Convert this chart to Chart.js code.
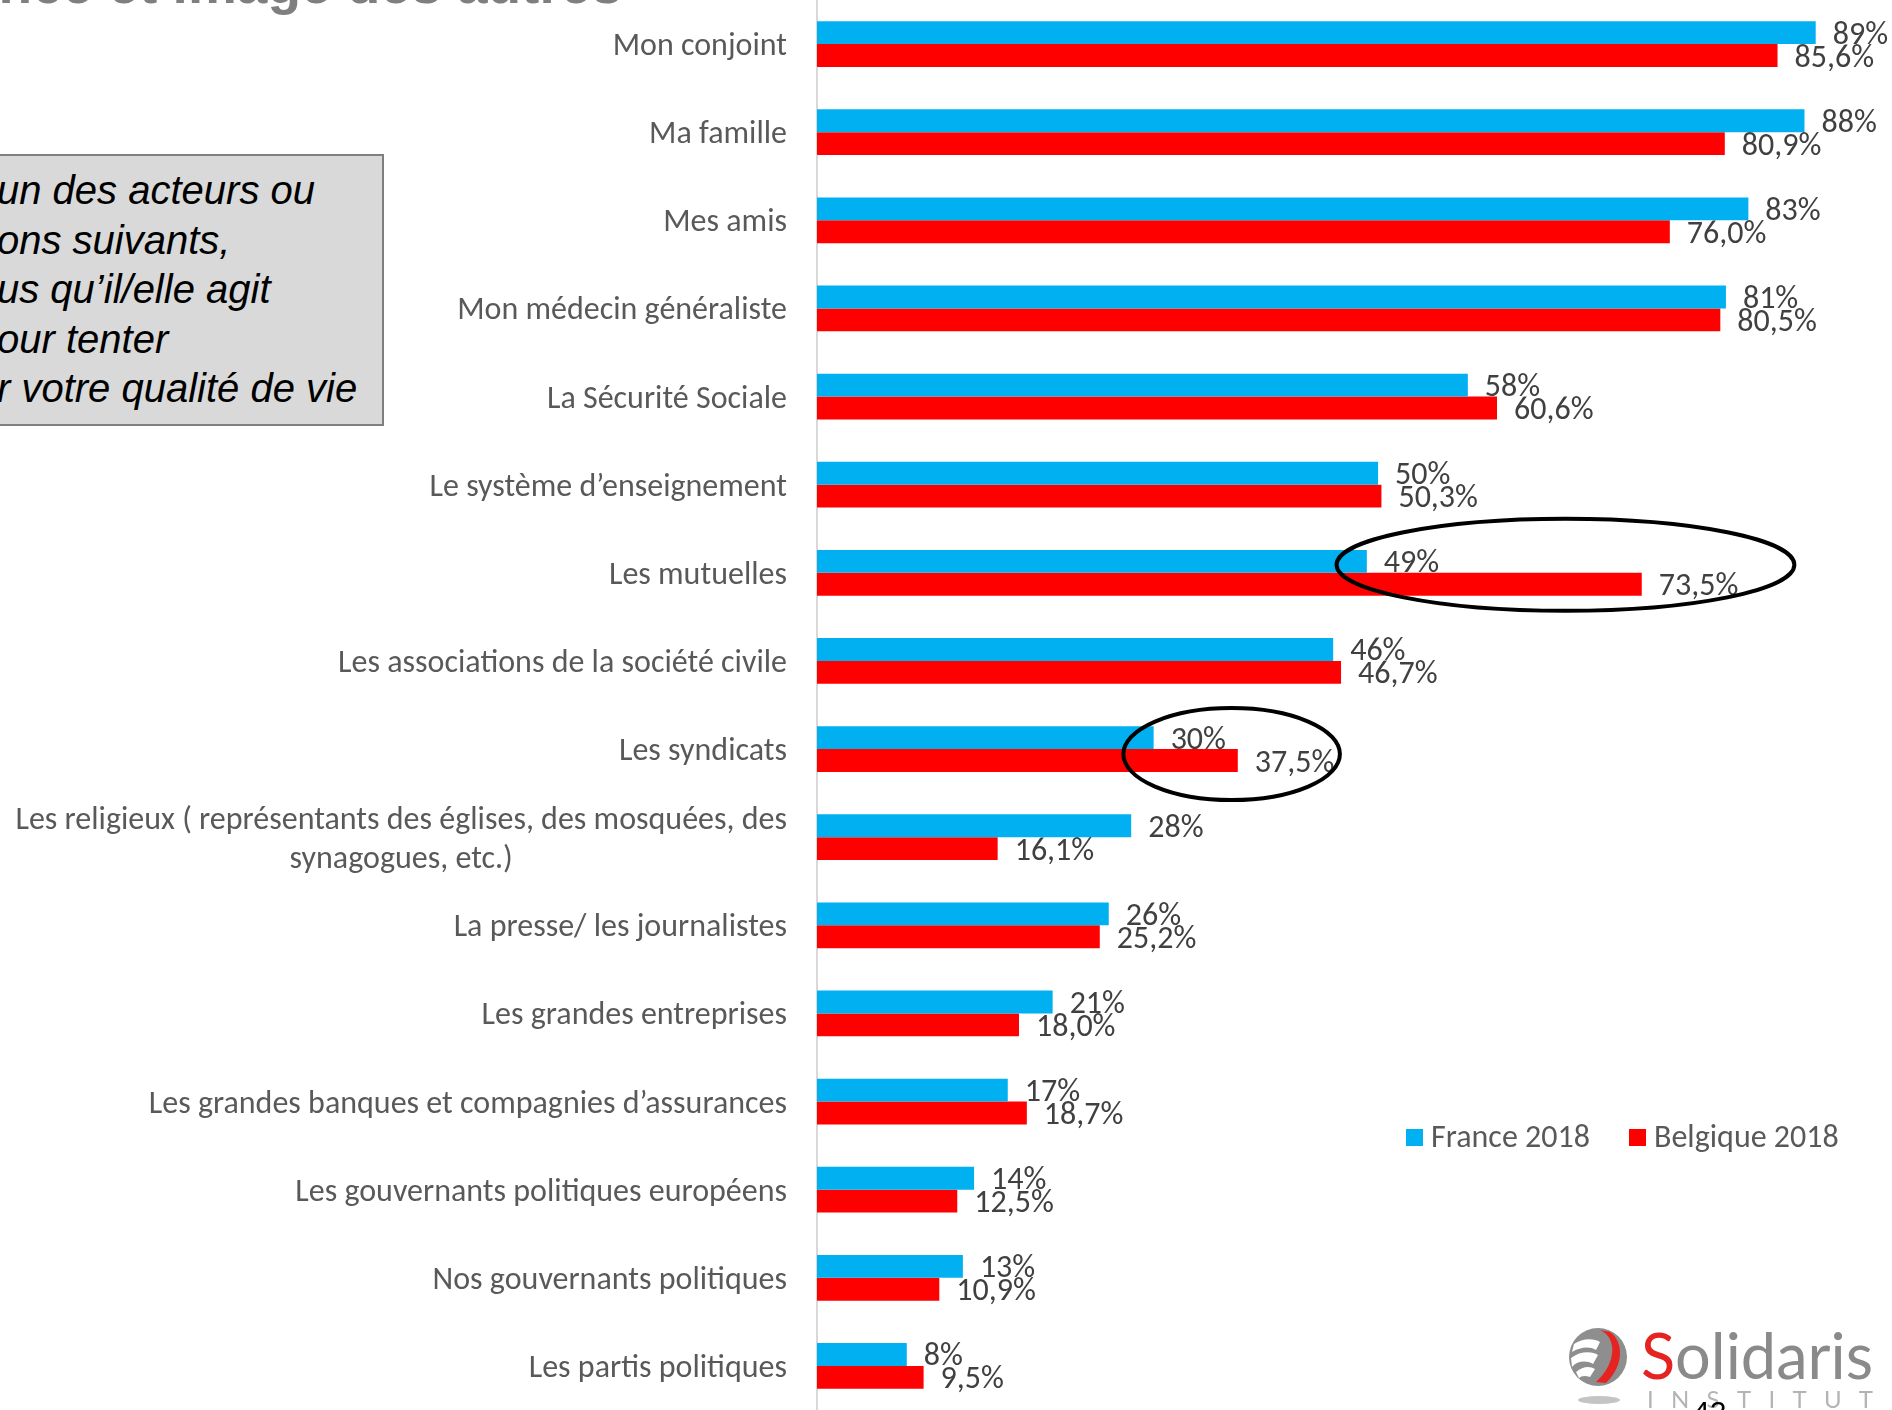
<!DOCTYPE html>
<html>
<head>
<meta charset="utf-8">
<script src="https://cdn.jsdelivr.net/npm/chart.js@4.4.1/dist/chart.umd.min.js"></script>
<style>
  html, body { margin: 0; padding: 0; background: #fff; overflow: hidden; }
  #wrap { position: relative; width: 1892px; height: 1410px; overflow: hidden; }
  #chart { position: absolute; left: 0; top: 0; }
  #title {
    position: absolute; right: 1270px; top: -43px; white-space: nowrap;
    font: bold 55px "Liberation Sans", Arial, sans-serif; line-height: 1; color: #7f7f7f;
  }
  #question {
    position: absolute; left: -20px; top: 154px; width: 404px; height: 272px;
    background: #d9d9d9; border: 2px solid #7f7f7f;
    padding: 10px 0 0 15px; box-sizing: border-box;
    font: italic 40px "Liberation Sans", Arial, sans-serif; line-height: 49.5px; color: #000;
    white-space: nowrap;
  }
  .leg { position: absolute; top: 1116px; font: 32px Carlito, Lato, sans-serif; color: #595959; line-height: 42px; }
  .leg i { position: absolute; left: 0; top: 13px; width: 17px; height: 17px; }
  .leg span { position: absolute; left: 25px; top: 0; white-space: nowrap; }
  #logo { position: absolute; left: 1560px; top: 1320px; }
</style>
</head>
<body>
<div id="wrap">
  <canvas id="chart" width="1892" height="1410"></canvas>
  <div id="title">Confiance et image des autres</div>
  <div id="question">un des acteurs ou<br>ons suivants,<br>us qu’il/elle agit<br>our tenter<br>r votre qualité de vie</div>
  <div class="leg" style="left:1406px"><i style="background:#00b0f0"></i><span>France 2018</span></div>
  <div class="leg" style="left:1629px"><i style="background:#ff0000"></i><span>Belgique 2018</span></div>
  <svg id="logo" width="332" height="90" viewBox="0 0 332 90">
    <ellipse cx="39" cy="80" rx="21" ry="4" fill="#c4c4c4"/>
    <circle cx="38" cy="37" r="29" fill="#8e8e8e"/>
    <path d="M40 10 C58 18 56 44 36 62 L46 63 C64 46 64 22 50 12 Z" fill="#e52421"/>
    <path d="M14 24 C22 18 34 18 40 22 L36 30 C30 26 20 27 12 32 Z" fill="#fff"/>
    <path d="M11 38 C20 31 32 31 38 35 L33 44 C26 40 17 41 12 47 Z" fill="#fff"/>
    <path d="M16 52 C23 46 30 46 35 49 L30 57 C25 55 21 56 19 58 Z" fill="#fff"/>
    <text x="81" y="59" font-family="Lato, sans-serif" font-size="64" textLength="232" lengthAdjust="spacingAndGlyphs" fill="#8a8a8a"><tspan fill="#e52421">S</tspan>olidaris</text>
    <text x="87" y="88" font-family="Lato, sans-serif" font-size="24" textLength="226" lengthAdjust="spacing" fill="#b4b4b4">INSTITUT</text>
    <text x="133" y="102" font-family="Liberation Sans, sans-serif" font-size="30" fill="#000">42</text>
  </svg>
</div>
<script>
// categories top to bottom (the long one is split on two lines)
const categories = [
  "Mon conjoint",
  "Ma famille",
  "Mes amis",
  "Mon médecin généraliste",
  "La Sécurité Sociale",
  "Le système d’enseignement",
  "Les mutuelles",
  "Les associations de la société civile",
  "Les syndicats",
  ["Les religieux ( représentants des églises, des mosquées, des", "synagogues, etc.)"],
  "La presse/ les journalistes",
  "Les grandes entreprises",
  "Les grandes banques et compagnies d’assurances",
  "Les gouvernants politiques européens",
  "Nos gouvernants politiques",
  "Les partis politiques"
];
const france2018 = [89, 88, 83, 81, 58, 50, 49, 46, 30, 28, 26, 21, 17, 14, 13, 8];
const belgique2018 = [85.6, 80.9, 76.0, 80.5, 60.6, 50.3, 73.5, 46.7, 37.5, 16.1, 25.2, 18.0, 18.7, 12.5, 10.9, 9.5];
// circled comparisons: category index and the value range the ring covers
const highlightCats = [6, 8];
const highlightFrom = [46.3, 27.3];
const highlightTo = [87.1, 46.6];
const ringShift = [-8, 5]; // px, rings are hand placed

const TEXT_FONT = '32px Carlito, Lato, sans-serif';

// value labels, category labels and the hand-drawn rings
const overlay = {
  id: 'overlay',
  afterDatasetsDraw(chart) {
    const ctx = chart.ctx;
    const xs = chart.scales.x, ys = chart.scales.y;
    ctx.save();
    ctx.font = TEXT_FONT;
    ctx.textBaseline = 'middle';

    // value labels
    ctx.fillStyle = '#404040';
    ctx.textAlign = 'left';
    chart.data.datasets.forEach((ds, i) => {
      chart.getDatasetMeta(i).data.forEach((bar, j) => {
        const v = ds.data[j];
        const txt = i === 0 ? v + '%' : v.toFixed(1).replace('.', ',') + '%';
        ctx.fillText(txt, bar.x + 17, bar.y + 3);
      });
    });

    // category labels
    ctx.fillStyle = '#595959';
    const right = ys.right - 30;
    categories.forEach((c, j) => {
      const cy = ys.getPixelForValue(j) + 3;
      if (Array.isArray(c)) {
        const w = ctx.measureText(c[0]).width;
        ctx.textAlign = 'center';
        ctx.fillText(c[0], right - w / 2, cy - 19);
        ctx.fillText(c[1], right - w / 2, cy + 20);
      } else {
        ctx.textAlign = 'right';
        ctx.fillText(c, right, cy);
      }
    });

    // rings
    ctx.strokeStyle = '#000';
    ctx.lineWidth = 4;
    highlightCats.forEach((j, k) => {
      const x1 = xs.getPixelForValue(highlightFrom[k]);
      const x2 = xs.getPixelForValue(highlightTo[k]);
      ctx.beginPath();
      ctx.ellipse((x1 + x2) / 2, ys.getPixelForValue(j) + ringShift[k], (x2 - x1) / 2, 46, 0, 0, Math.PI * 2);
      ctx.stroke();
    });
    ctx.restore();
  }
};

new Chart(document.getElementById('chart'), {
  type: 'bar',
  data: {
    labels: categories,
    datasets: [
      { label: 'France 2018', data: france2018, backgroundColor: '#00b0f0' },
      { label: 'Belgique 2018', data: belgique2018, backgroundColor: '#ff0000' }
    ]
  },
  options: {
    indexAxis: 'y',
    responsive: false,
    animation: false,
    layout: { padding: 0 },
    datasets: { bar: { categoryPercentage: 0.52, barPercentage: 1, borderWidth: 0 } },
    plugins: { legend: { display: false }, tooltip: { enabled: false } },
    scales: {
      x: { display: false, min: 0, max: 95.8 },
      y: {
        ticks: { display: false },
        grid: { display: false },
        border: { display: true, color: '#d9d9d9', width: 2 },
        afterFit(scale) { scale.width = 817; }
      }
    }
  },
  plugins: [overlay]
});
</script>
</body>
</html>
